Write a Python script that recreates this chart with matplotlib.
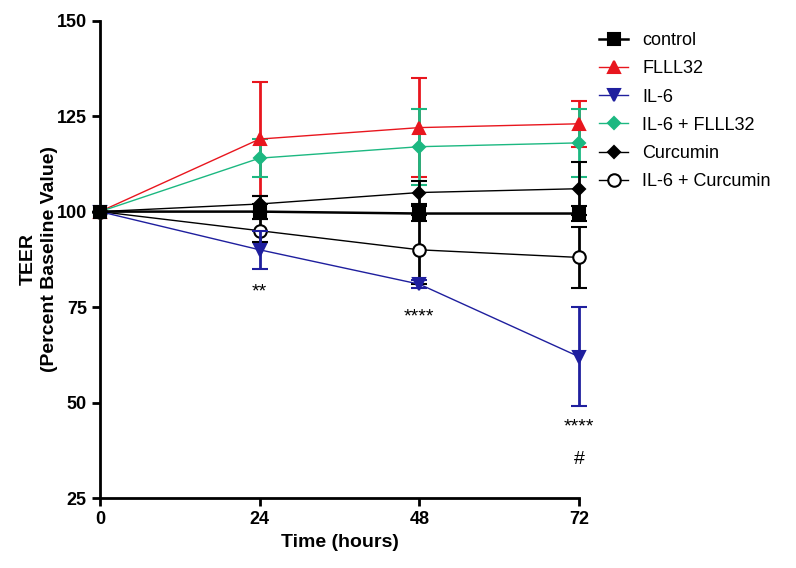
import matplotlib.pyplot as plt
import numpy as np

plt.rcParams['font.family'] = ['Liberation Sans', 'DejaVu Sans']

hours = [0, 24, 48, 72]

control = [100, 100, 99.5, 99.5]
control_err = [0, 2, 2, 2]
flll32 = [100, 119, 122, 123]
flll32_err = [0, 15, 13, 6]
il6 = [100, 90, 81, 62]
il6_err = [0, 5, 1, 13]
il6_flll32 = [100, 114, 117, 118]
il6_flll32_err = [0, 5, 10, 9]
curcumin = [100, 102, 105, 106]
curcumin_err = [0, 2, 3, 7]
il6_curcumin = [100, 95, 90, 88]
il6_curcumin_err = [0, 3, 9, 8]

# significance marks: (x, y, text)
marks = [(24, 79, '**'), (48, 72.5, '****'), (72, 43.5, '****'), (72, 35, '#')]

fig = plt.figure(figsize=(7.96, 5.68), dpi=100)
ax = fig.add_axes([0.1256, 0.1232, 0.6018, 0.8404])

series = [
    ('control', control, control_err, 'black', 's', 'black', 1.8, 8, 5),
    ('FLLL32', flll32, flll32_err, '#e8161e', '^', '#e8161e', 1.0, 8, 3),
    ('IL-6', il6, il6_err, '#1f1f9e', 'v', '#1f1f9e', 1.0, 8, 3),
    ('IL-6 + FLLL32', il6_flll32, il6_flll32_err, '#1cb881', 'D', '#1cb881', 1.0, 6, 3),
    ('Curcumin', curcumin, curcumin_err, 'black', 'D', 'black', 1.0, 6, 4),
    ('IL-6 + Curcumin', il6_curcumin, il6_curcumin_err, 'black', 'o', 'white', 1.0, 9, 2),
]

for name, vals, err, col, mk, face, lw, ms, z in series:
    ax.errorbar(hours, vals, yerr=err, color=col, marker=mk, markerfacecolor=face,
                markeredgecolor=col, markeredgewidth=1.5, markersize=ms, lw=lw,
                elinewidth=2, capsize=6, capthick=2, label=name, zorder=z)

for x, y, t in marks:
    ax.text(x, y, t, ha='center', va='center', fontsize=14)

ax.set_xlim(0, 72)
ax.set_ylim(25, 150)
ax.set_xticks(hours)
ax.set_yticks([25, 50, 75, 100, 125, 150])
ax.spines['top'].set_visible(False)
ax.spines['right'].set_visible(False)
ax.spines['left'].set_linewidth(2)
ax.spines['bottom'].set_linewidth(2)
ax.tick_params(width=2, length=6, labelsize=13)
for lab in ax.get_xticklabels() + ax.get_yticklabels():
    lab.set_fontweight('bold')
for art in ax.get_children():
    art.set_clip_on(False)

ax.set_xlabel('Time (hours)', fontsize=14, fontweight='bold')
ax.set_ylabel('TEER\n(Percent Baseline Value)', fontsize=14, fontweight='bold', linespacing=1.35)
ax.yaxis.set_label_coords(-0.088, 0.5)

handles, labels = ax.get_legend_handles_labels()
handles = [h[0] for h in handles]
ax.legend(handles, labels, loc='upper left', bbox_to_anchor=(1.008, 1.01), frameon=False,
          fontsize=13, handlelength=1.6, labelspacing=0.62)

fig.savefig('out.png', dpi=100)
